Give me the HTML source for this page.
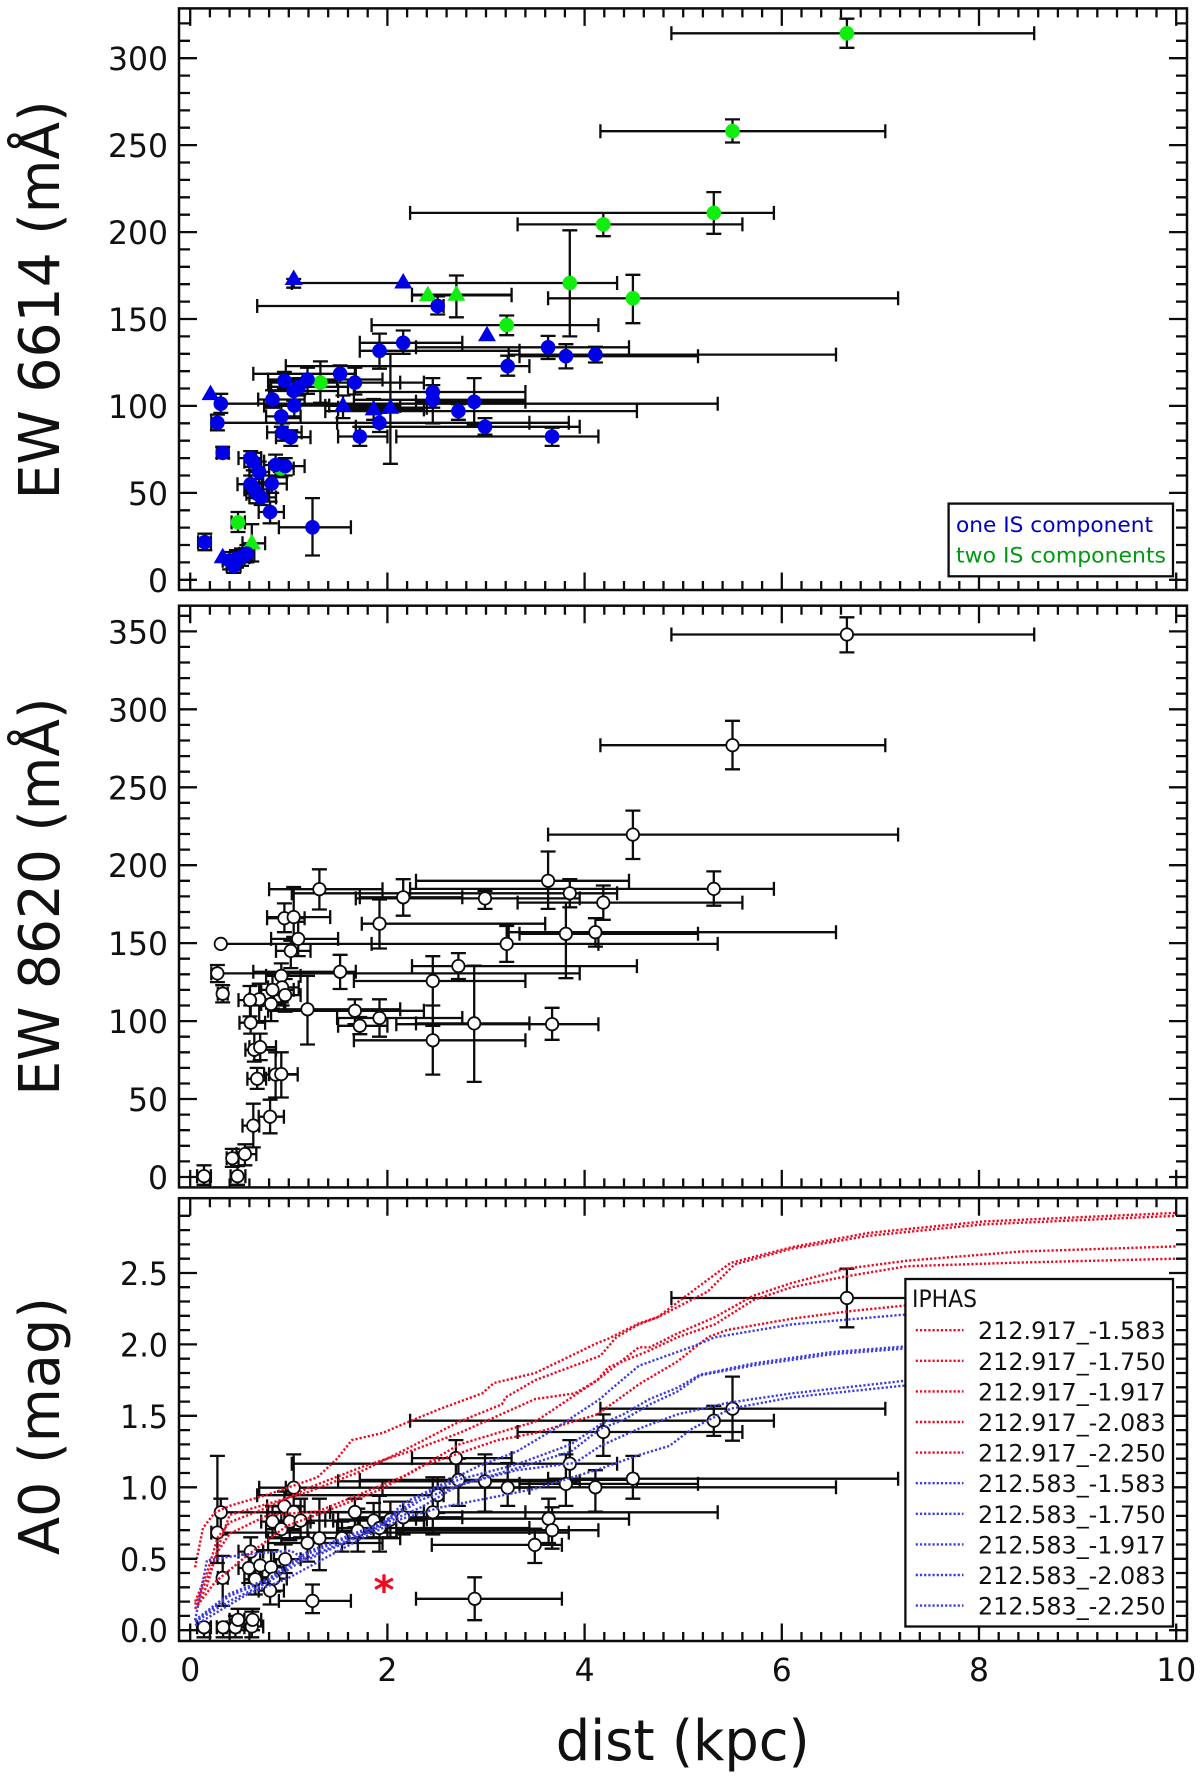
<!DOCTYPE html>
<html lang="en">
<head>
<meta charset="utf-8">
<title>EW and extinction versus distance</title>
<style>
html,body{margin:0;padding:0;background:#fff;}
svg{display:block;}
text{font-family:"DejaVu Sans","Liberation Sans",sans-serif;fill:#111;}
</style>
</head>
<body>
<svg id="chart" xmlns="http://www.w3.org/2000/svg" width="1200" height="1776" viewBox="0 0 1200 1776">
<rect x="0" y="0" width="1200" height="1776" fill="#ffffff"/>
</svg>
<script>
// Rows: distance, distance low, distance high, value, value low, value high
var ew6614OneCircles = [
[2.51,.68,2.57,157.5,152.6,163],[2.16,1.72,2.76,136.3,130,143.4],[1.92,1.72,3.34,131.7,121.4,141.6],
[3.63,2.29,4.45,133.7,127,140.3],[3.81,3.34,5.15,128.6,121.6,135.5],[4.11,3.23,6.55,129.5,125,134],
[3.22,.97,3.44,122.9,117.4,128.9],[1.52,.64,1.68,118.5,113.4,123.3],[1.67,.79,2.37,113.4,106.6,122],
[1.19,.79,1.95,115.2,107,122],[.955,.79,1.49,114.5,109.7,119.6],[1.1,.82,1.6,111,106,116],
[1.05,.8,1.5,108.6,103,114],[.835,.69,1.16,103.7,99,109],[.31,.31,5.35,101.3,96,107],
[.276,.214,3.84,90.3,86,95],[.33,.27,.39,73,70,76.5],[1.056,.75,1.41,100.2,93,107],
[.924,.77,1.12,94,88,100],[.936,.78,1.13,84.8,80,90],[1.02,.87,1.22,82,77,86],
[2.46,1.66,3.40,108,99,116],[2.46,1.66,3.40,103.5,90,112],[2.72,1.37,4.53,97,92,101],
[2.88,2.29,3.40,102.4,89,116],[2.99,1.68,3.95,88,83.5,93],[1.92,1.49,3.44,90.3,85,96],
[1.72,1.5,2.0,82.4,77,88],[3.67,2.09,4.14,82.4,77,87.5],[1.24,.9,1.63,30.2,14,47],
[.81,.695,.95,39,32.5,45],[.148,.08,.21,21.6,17,26.5],[.40,.33,.47,11,6,16],
[.44,.37,.51,8,4,13],[.47,.40,.55,12,7,17],[.52,.45,.6,13,8,18],[.575,.5,.65,15,10,20],
[.614,.49,.72,70,65,74],[.64,.55,.75,68,63,73],[.70,.60,.80,62,56,68],[.866,.75,.98,66,60,72],
[.963,.85,1.16,65.4,60,70],[.614,.48,.74,55,50,60],[.65,.55,.78,52,47,58],[.68,.57,.8,49.5,44,55],
[.72,.6,.87,47.4,43,52],[.827,.73,.98,55.3,50,60]
];
var ew6614OneTriangles = [
[.206,.206,.206,106.8,106.8,106.8],[1.05,1.05,1.05,173,168,173],[2.16,2.16,2.16,171,171,171],
[3.01,3.01,3.01,140.7,140.7,140.7],[1.55,1.37,2.13,100,93,106],[1.86,1.5,2.37,98,92,104],
[2.03,1.5,2.4,99,66.7,130],[.33,.33,.33,13,13,13]
];
var ew6614TwoCircles = [
[6.66,4.88,8.56,314.3,306,322.7],[5.50,4.16,7.05,258,251.5,264.8],[5.31,2.23,5.92,211,199,223],
[4.19,3.32,5.60,204.4,197.6,211],[3.85,1.03,4.33,170.7,140,201],[4.49,3.63,7.18,161.9,147.6,175.4],
[3.21,1.84,4.14,146.5,140.7,152],[1.32,.79,2.13,113.4,101.8,125.6],[.485,.42,.555,33,27.5,39],
[.92,.8,1.05,64,59,69]
];
var ew6614TwoTriangles = [
[2.41,2.25,3.26,163.6,163.6,163.6],[2.70,2.25,3.26,164,151,175],[.625,.53,.76,21,10.5,32]
];
var ew8620Points = [
[6.66,4.88,8.56,348,336.5,359],[5.5,4.16,7.05,277,261.5,292.6],[4.49,3.63,7.18,219.6,204,235],
[5.31,2.23,5.92,184.8,174,196],[4.19,3.32,5.6,176,165,187],[3.63,2.29,4.45,190,172,208.8],
[3.85,1.03,4.33,182,173,191],[2.16,1.72,2.76,179.4,167.6,191],[2.99,1.68,3.95,178.7,172,183.5],
[1.31,.8,1.95,184.6,171.6,197.4],[1.92,1.74,3.6,162.5,146.6,178],[3.81,3.34,5.15,156,127.5,176],
[4.11,3.23,6.55,157,147.8,166],[3.21,1.84,4.14,149.5,138,161],[.31,.31,5.35,149.5,149.5,149.5],
[.955,.78,1.16,166,157,175.5],[1.05,.78,1.42,166.7,154,186],[1.095,.82,1.5,152.7,141.7,163.7],
[1.02,.87,1.22,145,134,151.6],[.276,.214,3.95,130.6,125,136],[.33,.28,.38,117.6,112,123],
[1.52,.64,1.68,131.6,120.6,142.5],[2.72,2.25,4.53,135.3,127,143.6],[2.46,1.66,3.40,125.7,97,141.6],
[.924,.77,1.12,129,112,137],[.932,.79,1.1,121.6,110,130],[.835,.72,1.05,120,108,130],
[.963,.85,1.12,116.7,106,127],[.70,.6,.85,114,100,124],[.606,.49,.74,113.5,103,122.5],
[.82,.72,.95,111,100,120],[1.19,.79,2.13,107.6,85,129],[1.67,.79,2.37,106.6,98,114],
[1.92,1.49,2.76,102,90,114],[1.72,1.5,2.0,97,91.6,102.6],[2.88,2.29,3.44,98.5,61,135.6],
[3.67,2.09,4.14,98,88,108.5],[2.46,1.66,3.40,87.7,65.7,110],[.614,.5,.76,99,92,110],
[.65,.56,.87,81.6,74,92],[.71,.6,.87,83.3,75,92],[.68,.58,.77,63,56.5,70],
[.866,.75,1.09,65.7,51,80],[.924,.8,1.09,66,51,80],[.81,.695,.95,38.7,28,49.6],
[.64,.53,.7,33,19,47],[.427,.37,.49,12,6.5,18],[.555,.47,.67,14.7,7.5,21],
[.14,.07,.21,.5,-5,7.5],[.48,.41,.56,.5,-5,7]
];
var a0Points = [
[6.66,4.88,8.56,2.325,2.12,2.53],[5.5,4.16,7.05,1.55,1.326,1.775],[5.31,2.23,5.92,1.466,1.36,1.57],
[4.19,3.32,5.6,1.387,1.22,1.51],[4.49,3.63,7.18,1.06,.92,1.22],[3.85,1.03,4.33,1.165,1.03,1.33],
[2.695,2.25,3.26,1.204,1.06,1.33],[2.72,1.72,4.53,1.052,.87,1.2],[2.99,1.5,3.95,1.042,.83,1.23],
[3.22,.97,3.44,.997,.87,1.17],[3.81,3.34,5.15,1.024,.87,1.23],[4.11,3.23,6.55,1.0,.83,1.12],
[3.635,2.29,4.45,.78,.61,.92],[3.67,2.09,4.14,.70,.57,.86],[3.495,2.45,3.77,.597,.47,.71],
[2.885,2.29,3.77,.22,.07,.37],[1.24,.9,1.63,.205,.12,.32],[2.46,1.66,3.40,.825,.67,1.07],
[2.51,.68,2.57,.945,.82,1.07],[2.16,1.72,2.76,.79,.67,.9],[2.03,1.5,2.4,.775,.65,.9],
[1.86,1.37,2.37,.767,.65,.89],[1.92,1.49,3.44,.715,.55,.94],[1.67,.79,2.37,.827,.72,.92],
[1.7,1.5,2.0,.696,.55,.85],[1.54,1.2,2.13,.644,.55,.76],[1.31,.79,2.13,.644,.42,.92],
[1.19,.79,1.95,.61,.48,.75],[1.05,.7,1.95,.997,.87,1.23],[.955,.78,1.16,.866,.76,.97],
[1.05,.78,1.42,.827,.7,.95],[.835,.72,1.05,.76,.65,.87],[1.01,.87,1.22,.76,.63,.87],
[1.12,.85,1.45,.767,.65,.92],[.924,.77,1.12,.707,.6,.82],[.31,.31,5.35,.825,.67,.92],
[.276,.214,3.84,.683,.47,1.22],[.33,.28,.38,.366,.17,.52],[.614,.49,.74,.55,.45,.65],
[.594,.49,.7,.435,.33,.53],[.71,.6,.87,.453,.33,.56],[.82,.72,.95,.44,.33,.56],
[.963,.85,1.12,.497,.4,.6],[.847,.73,.98,.361,.27,.45],[.66,.55,.8,.356,.25,.45],
[.81,.695,.95,.277,.18,.37],[.14,.07,.21,.02,-.05,.05],[.334,.27,.4,.02,-.05,.05],
[.458,.37,.55,.02,-.05,.1],[.625,.5,.74,.026,-.05,.13],[.485,.4,.55,.073,0,.15],
[.633,.55,.72,.073,0,.15]
];
var redStarPoint = [1.965,.33];

var curve917m1583 = [[.05,.44],[.13,.715],[.245,.82],[.4,.87],[.79,.95],[1.06,1.015],[1.29,1.07],[1.49,1.2],[1.64,1.33],[1.95,1.38],[2.22,1.46],[2.54,1.55],[2.96,1.657],[3.08,1.73],[3.5,1.8],[4.13,2.01],[4.24,2.04],[4.55,2.147],[4.74,2.19],[5.05,2.35],[5.48,2.57],[6.1,2.68],[6.88,2.78],[8.04,2.86],[10,2.92]];
var curve917m1750 = [[.05,.15],[.17,.31],[.28,.57],[.4,.806],[.79,.885],[1.18,.963],[1.76,1.12],[2.22,1.277],[2.73,1.46],[3.16,1.58],[3.2,1.63],[3.5,1.75],[4.16,1.92],[4.32,2.05],[4.55,2.14],[4.74,2.19],[5.25,2.37],[5.52,2.56],[6.1,2.67],[6.88,2.76],[8.04,2.84],[10,2.9]];
var curve917m1917 = [[.05,.2],[.17,.4],[.28,.65],[.4,.755],[.79,.86],[1.18,.99],[1.76,1.147],[2.22,1.25],[2.73,1.38],[3.5,1.618],[3.9,1.657],[4.13,1.75],[4.55,1.98],[4.66,1.98],[4.94,2.076],[5.32,2.19],[5.71,2.34],[6.1,2.43],[6.65,2.53],[7.27,2.586],[8.43,2.65],[10,2.686]];
var curve917m2083 = [[.05,.18],[.17,.36],[.28,.55],[.4,.675],[.79,.806],[1.29,.83],[1.76,.963],[2.22,1.094],[2.73,1.3],[3.5,1.46],[4.13,1.75],[4.24,1.84],[4.66,1.958],[4.94,2.05],[5.32,2.14],[5.71,2.31],[6.1,2.4],[6.65,2.476],[7.27,2.547],[8.43,2.573],[10,2.6]];
var curve917m2250 = [[.05,.15],[.25,.335],[.59,.53],[.98,.73],[1.37,.83],[1.95,.99],[2.34,1.147],[3.12,1.33],[3.5,1.38],[4.13,1.51],[4.55,1.72],[4.94,1.88],[5.25,2.05],[5.44,2.1],[6.1,2.18],[6.66,2.23],[7.22,2.27],[9.9,2.4]];
var curve583m1583 = [[.05,.07],[.17,.49],[.555,.53],[1.02,.557],[1.18,.49],[1.565,.61],[1.95,.73],[2.15,.885],[2.54,1.016],[2.92,1.147],[3.31,1.25],[3.7,1.41],[4.16,1.62],[4.24,1.67],[4.55,1.85],[5.09,1.984],[5.32,2.05],[6.1,2.14],[7.22,2.207],[9.9,2.3]];
var curve583m1750 = [[.05,.07],[.4,.256],[.79,.36],[1.18,.545],[1.565,.65],[1.95,.754],[2.34,.937],[2.73,1.055],[3.31,1.16],[3.86,1.3],[4.16,1.44],[4.39,1.51],[4.66,1.618],[4.94,1.696],[5.17,1.788],[5.71,1.866],[6.49,1.945],[7.22,1.984],[9.9,2.05]];
var curve583m1917 = [[.05,.06],[.4,.24],[.79,.35],[1.18,.53],[1.565,.64],[1.95,.745],[2.34,.911],[2.73,1.016],[3.31,1.134],[3.86,1.25],[4.16,1.41],[4.39,1.47],[4.66,1.58],[4.94,1.67],[5.17,1.783],[5.71,1.853],[6.49,1.93],[7.22,1.97],[9.9,2.03]];
var curve583m2083 = [[.05,.06],[.4,.204],[.79,.335],[1.18,.505],[1.565,.62],[1.95,.74],[2.34,.86],[2.73,1.016],[3.31,1.12],[3.9,1.17],[4.16,1.29],[4.55,1.41],[4.94,1.51],[5.44,1.59],[6.1,1.657],[7.22,1.743],[9.9,1.8]];
var curve583m2250 = [[.05,.034],[.59,.256],[.98,.36],[1.37,.505],[1.76,.65],[2.15,.78],[2.54,.859],[3.12,.937],[3.5,.99],[4.16,1.13],[4.55,1.225],[4.86,1.29],[5.09,1.41],[5.48,1.55],[6.1,1.63],[7.22,1.71],[9.9,1.77]];

var xTickLabels = ['0','2','4','6','8','10'];
var ew6614TickLabels = ['0','50','100','150','200','250','300'];
var ew8620TickLabels = ['0','50','100','150','200','250','300','350'];
var a0TickLabels = ['0.0','0.5','1.0','1.5','2.0','2.5'];
var curveNames = ['212.917_-1.583','212.917_-1.750','212.917_-1.917','212.917_-2.083','212.917_-2.250','212.583_-1.583','212.583_-1.750','212.583_-1.917','212.583_-2.083','212.583_-2.250'];
var curveSeries = [curve917m1583,curve917m1750,curve917m1917,curve917m2083,curve917m2250,curve583m1583,curve583m1750,curve583m1917,curve583m2083,curve583m2250];

var NS = 'http://www.w3.org/2000/svg';
var svg = document.getElementById('chart');
var RED = '#ec0a22';
var BLUE = '#3c3ce4';
var INK = '#0c0c0c';

function xScale(d){ return 190.2 + 98.6 * d; }
function yScale1(v){ return 579.8 - 1.7387 * v; }
function yScale2(v){ return 1177 - 1.559 * v; }
function yScale3(v){ return 1630.2 - 142.9 * v; }

function make(parent, tag, attrs, txt){
  var el = document.createElementNS(NS, tag);
  for (var k in attrs) el.setAttribute(k, attrs[k]);
  if (txt !== undefined) el.textContent = txt;
  parent.appendChild(el);
  return el;
}
function labelWidth(s){
  var w = 0;
  for (var i = 0; i < s.length; i++) w += s[i] === '.' ? 8 : 20;
  return w;
}
function drawAxes(panel, top, bottom, yScale, minorStep, minorCount, labels){
  var g = make(svg, 'g', {});
  
  
  var L = 179, R = 1187;
  var p = '';
  var i, x, y;
  for (i = 0; i <= 50; i++){
    x = xScale(i * 0.2).toFixed(1);
    var len = i % 10 === 0 ? 17.5 : 9;
    p += 'M' + x + ' ' + top + 'V' + (top + len) + 'M' + x + ' ' + bottom + 'V' + (bottom - len);
  }
  for (i = 0; i <= minorCount; i++){
    y = yScale(i * minorStep).toFixed(1);
    var ylen = i % 5 === 0 ? 18 : 11;
    p += 'M' + L + ' ' + y + 'H' + (L + ylen) + 'M' + R + ' ' + y + 'H' + (R - ylen);
  }
  var ticks = make(g, 'path', {d: p, stroke: INK, 'stroke-width': 2.3, fill: 'none'});
  
  
  var frame = make(g, 'rect', {x: L, y: top, width: R - L, height: bottom - top, fill: 'none', stroke: INK, 'stroke-width': 2.5});
  
  
  labels.forEach(function(s){
    var t = make(g, 'text', {x: 168, y: (yScale(parseFloat(s)) + 12).toFixed(1), 'text-anchor': 'end', 'font-size': 32, textLength: labelWidth(s), lengthAdjust: 'spacingAndGlyphs'}, s);
    
    
  });
}
function drawBars(parent, rows, yScale){
  var p = '';
  rows.forEach(function(r){
    var x = xScale(r[0]), y = yScale(r[3]);
    var x0 = xScale(r[1]), x1 = xScale(r[2]), y0 = yScale(r[4]), y1 = yScale(r[5]);
    if (r[2] > r[1]){
      p += 'M' + x0.toFixed(1) + ' ' + y.toFixed(1) + 'H' + x1.toFixed(1);
      if (r[1] < r[0]) p += 'M' + x0.toFixed(1) + ' ' + (y - 7).toFixed(1) + 'v14';
      p += 'M' + x1.toFixed(1) + ' ' + (y - 7).toFixed(1) + 'v14';
    }
    if (r[5] > r[4]){
      p += 'M' + x.toFixed(1) + ' ' + y0.toFixed(1) + 'V' + y1.toFixed(1);
      p += 'M' + (x - 7.5).toFixed(1) + ' ' + y0.toFixed(1) + 'h15';
      p += 'M' + (x - 7.5).toFixed(1) + ' ' + y1.toFixed(1) + 'h15';
    }
  });
  var path = make(parent, 'path', {d: p, stroke: INK, 'stroke-width': 2.3, fill: 'none'});
  
  
}
function drawCircles(parent, rows, yScale, color, radius, stroke, name){
  rows.forEach(function(r){
    var c = make(parent, 'circle', {cx: xScale(r[0]).toFixed(1), cy: yScale(r[3]).toFixed(1), r: radius, fill: color, stroke: stroke, 'stroke-width': stroke === 'none' ? 0 : 1.8});
    
    
  });
}
function drawTriangles(parent, rows, yScale, color, name){
  rows.forEach(function(r){
    var x = xScale(r[0]), y = yScale(r[3]);
    var pts = x.toFixed(1) + ',' + (y - 9.5).toFixed(1) + ' ' + (x - 9).toFixed(1) + ',' + (y + 6).toFixed(1) + ' ' + (x + 9).toFixed(1) + ',' + (y + 6).toFixed(1);
    var t = make(parent, 'polygon', {points: pts, fill: color});
    
    
  });
}
function drawTitle(name, txt, yBottom, length){
  var t = make(svg, 'text', {transform: 'translate(59 ' + yBottom + ') rotate(-90)', 'font-size': 56, textLength: length, lengthAdjust: 'spacingAndGlyphs'}, txt);
  
  
}

/* panel 1 */
var g1 = make(svg, 'g', {});


drawBars(g1, ew6614OneCircles.concat(ew6614OneTriangles, ew6614TwoCircles, ew6614TwoTriangles), yScale1);
drawCircles(g1, ew6614TwoCircles, yScale1, '#10ee10', 7.3, 'none', 'two-component-point');
drawTriangles(g1, ew6614TwoTriangles, yScale1, '#10ee10', 'two-component-triangle');
drawCircles(g1, ew6614OneCircles, yScale1, '#0000e6', 7.3, 'none', 'one-component-point');
drawTriangles(g1, ew6614OneTriangles, yScale1, '#0000e6', 'one-component-triangle');
drawAxes('ew6614', 8.4, 590, yScale1, 10, 32, ew6614TickLabels);
drawTitle('ew6614-y-axis-title', 'EW 6614 (mÅ)', 499.4, 399);

/* panel 2 */
var g2 = make(svg, 'g', {});


drawBars(g2, ew8620Points, yScale2);
drawCircles(g2, ew8620Points, yScale2, '#ffffff', 6.2, INK, 'ew8620-point');
drawAxes('ew8620', 605.7, 1187.4, yScale2, 10, 36, ew8620TickLabels);
drawTitle('ew8620-y-axis-title', 'EW 8620 (mÅ)', 1095.6, 398);

/* panel 3 */
var g3 = make(svg, 'g', {});


drawBars(g3, a0Points, yScale3);
drawCircles(g3, a0Points, yScale3, '#ffffff', 6.2, INK, 'a0-point');
curveSeries.forEach(function(series, idx){
  var d = series.map(function(p, i){ return (i ? 'L' : 'M') + xScale(p[0]).toFixed(1) + ' ' + yScale3(p[1]).toFixed(1); }).join('');
  var c = make(g3, 'path', {d: d, fill: 'none', stroke: idx < 5 ? RED : BLUE, 'stroke-width': 2.4, 'stroke-dasharray': '2.2 2'});
  
  
});
var star = make(g3, 'text', {x: xScale(redStarPoint[0]).toFixed(1), y: (yScale3(redStarPoint[1]) + 21).toFixed(1), 'text-anchor': 'middle', 'font-size': 40, 'font-weight': 'bold', style: 'fill:#f00a20'}, '*');


drawAxes('a0', 1198.2, 1641, yScale3, 0.1, 29, a0TickLabels);
drawTitle('a0-y-axis-title', 'A0 (mag)', 1555, 258);

/* x axis labels */
xTickLabels.forEach(function(s){
  var t = make(svg, 'text', {x: xScale(parseFloat(s)).toFixed(1), y: 1681, 'text-anchor': 'middle', 'font-size': 32, textLength: labelWidth(s), lengthAdjust: 'spacingAndGlyphs'}, s);
  
  
});
var xTitle = make(svg, 'text', {x: 555.7, y: 1760, 'font-size': 56, textLength: 254, lengthAdjust: 'spacingAndGlyphs'}, 'dist (kpc)');



/* legend 1 */
var leg1 = make(svg, 'g', {});


var leg1Box = make(leg1, 'rect', {x: 948.6, y: 503.6, width: 224.4, height: 72.7, fill: '#fff', stroke: INK, 'stroke-width': 2.3});


var leg1a = make(leg1, 'text', {x: 956, y: 532, 'font-size': 21, style: 'fill:#0000c4', textLength: 197, lengthAdjust: 'spacingAndGlyphs'}, 'one IS component');


var leg1b = make(leg1, 'text', {x: 956, y: 562.6, 'font-size': 21, style: 'fill:#009a10', textLength: 210, lengthAdjust: 'spacingAndGlyphs'}, 'two IS components');



/* legend 3 */
var leg3 = make(svg, 'g', {});


var leg3Box = make(leg3, 'rect', {x: 905.4, y: 1279, width: 267.6, height: 347.5, fill: '#fff', stroke: INK, 'stroke-width': 2.3});


var legTitle = make(leg3, 'text', {x: 912, y: 1307, 'font-size': 24, textLength: 65, lengthAdjust: 'spacingAndGlyphs'}, 'IPHAS');


curveNames.forEach(function(name, i){
  var cy = 1330.2 + i * 30.6;
  var ln = make(leg3, 'line', {x1: 915.7, x2: 963.5, y1: cy, y2: cy, stroke: i < 5 ? RED : BLUE, 'stroke-width': 2.4, 'stroke-dasharray': '2.2 2'});
  
  
  var tx = make(leg3, 'text', {x: 978, y: (cy + 9).toFixed(1), 'font-size': 24, textLength: 187.6, lengthAdjust: 'spacingAndGlyphs'}, name);
  
  
});
</script>
</body>
</html>
